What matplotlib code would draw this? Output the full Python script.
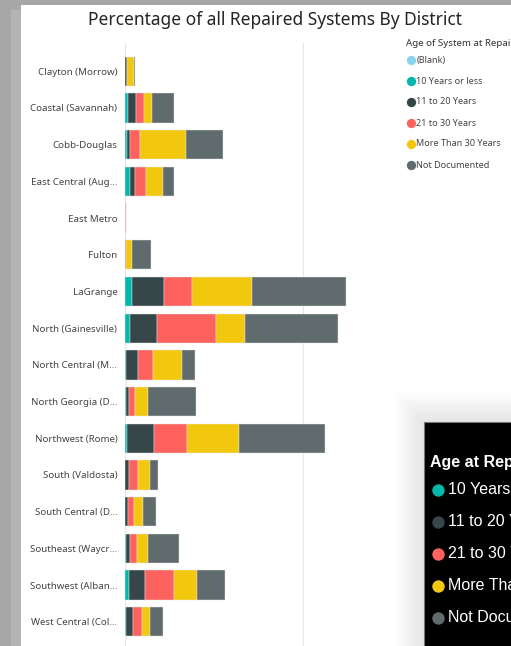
import matplotlib.pyplot as plt
from matplotlib.patches import Rectangle
import numpy as np

# districts (top to bottom) and the share of repaired systems per age group (% of all)
districts = ["Clayton (Morrow)", "Coastal (Savannah)", "Cobb-Douglas", "East Central (Aug…",
             "East Metro", "Fulton", "LaGrange", "North (Gainesville)", "North Central (M…",
             "North Georgia (D…", "Northwest (Rome)", "South (Valdosta)", "South Central (D…",
             "Southeast (Waycr…", "Southwest (Alban…", "West Central (Col…"]

blank       = [0, 0, 0, 0, 0, 0, 0, 0, 0, 0, 0, 0, 0, 0, 0, 0]
ten_or_less = [0, 0.17, 0.13, 0.26, 0, 0, 0.41, 0.30, 0.07, 0.06, 0.13, 0.02, 0, 0.07, 0.22, 0.07]
eleven_20   = [0.11, 0.45, 0.17, 0.32, 0, 0.02, 1.76, 1.52, 0.67, 0.17, 1.50, 0.21, 0.17, 0.21, 0.90, 0.38]
twentyone_30 = [0, 0.45, 0.56, 0.58, 0.03, 0.06, 1.57, 3.28, 0.86, 0.32, 1.84, 0.49, 0.32, 0.38, 1.63, 0.52]
more_30     = [0.37, 0.45, 2.55, 0.99, 0.03, 0.32, 3.41, 1.65, 1.63, 0.75, 2.94, 0.66, 0.52, 0.62, 1.31, 0.45]
not_doc     = [0.08, 1.24, 2.10, 0.60, 0, 1.05, 5.28, 5.19, 0.69, 2.71, 4.85, 0.49, 0.75, 1.74, 1.53, 0.73]

series_names = ["(Blank)", "10 Years or less", "11 to 20 Years", "21 to 30 Years",
                "More Than 30 Years", "Not Documented"]
series_vals = [blank, ten_or_less, eleven_20, twentyone_30, more_30, not_doc]
colors = ["#8AD4EB", "#01B8AA", "#374649", "#FD625E", "#F2C80F", "#5F6B6D"]

tooltip_title = "Age at Repair"
tooltip_items = series_names[1:]

W, H = 511, 646
fig = plt.figure(figsize=(W / 100, H / 100), dpi=100)
fig.patch.set_facecolor("#a7a7a7")

def px_box(x0, y0, x1, y1):
    return [x0 / W, 1 - y1 / H, (x1 - x0) / W, (y1 - y0) / H]

# background panel (report canvas)
bg = fig.add_axes([0, 0, 1, 1], zorder=0)
bg.set_xlim(0, W)
bg.set_ylim(H, 0)
bg.axis("off")
bg.add_patch(Rectangle((11, 10), 10, H, color="#b4b4b4", lw=0))
bg.add_patch(Rectangle((21, 5), W, H, color="white", lw=0))

bg.text(275, 20, "Percentage of all Repaired Systems By District", ha="center", va="center",
        fontsize=12.5, color="#252423", family="Noto Sans")

# chart
ax = fig.add_axes(px_box(125, 43, 385, 646), zorder=1)
ax.patch.set_alpha(0)
y = np.arange(len(districts))
left = np.zeros(len(districts))
for vals, col in zip(series_vals, colors):
    vals = np.array(vals)
    ax.barh(y, vals, left=left, height=0.8, color=col, edgecolor="#e9e9e9", linewidth=0.3, zorder=2)
    left += vals

ax.set_xlim(0, 260 / 17.8)
ax.set_ylim(15.66, -0.771)
ax.axvline(0, color="#e6e6e6", lw=0.8, zorder=1)
ax.axvline(10, color="#e6e6e6", lw=0.8, zorder=1)
ax.set_xticks([])
ax.set_yticks(y)
ax.set_yticklabels(districts, fontsize=7, color="#444444", family="Noto Sans")
ax.tick_params(axis="y", length=0, pad=5.5)
for s in ax.spines.values():
    s.set_visible(False)

# legend + tooltip overlay (texts are clipped at the right edge, as in the screenshot)
ov = fig.add_axes([0, 0, 1, 1], zorder=3)
ov.set_xlim(0, W)
ov.set_ylim(H, 0)
ov.axis("off")
ov.patch.set_alpha(0)

ov.text(406, 43, "Age of System at Repair", fontsize=7, color="#333333", va="center",
        family="Noto Sans", clip_on=True)
for i, (name, col) in enumerate(zip(series_names, colors)):
    yy = 60 + i * 21
    ov.scatter(410.5, yy, s=45, color=col, lw=0)
    ov.text(416.5, yy, name, fontsize=6.5, color="#444444", va="center", family="Noto Sans",
            clip_on=True)

# tooltip shadow and box
for k in range(8):
    d = 28 - k * 3.5
    ov.add_patch(Rectangle((423 - d, 421 - d), 200, 300, color="black", alpha=0.01, lw=0))
ov.add_patch(Rectangle((423.5, 421.5), 100, 240, facecolor="black", edgecolor="#777777", lw=0.8))
ov.text(430.5, 462, tooltip_title, fontsize=11.5, fontweight="bold", color="white",
        va="center", family="Liberation Sans", clip_on=True)
for i, (name, col) in enumerate(zip(tooltip_items, colors[1:])):
    yy = 489.5 + i * 32
    ov.scatter(437.7, yy, s=80, color=col, lw=0)
    ov.text(447.5, yy, name, fontsize=11.5, color="white", va="center",
            family="Liberation Sans", clip_on=True)

fig.savefig("out.png", dpi=100)
